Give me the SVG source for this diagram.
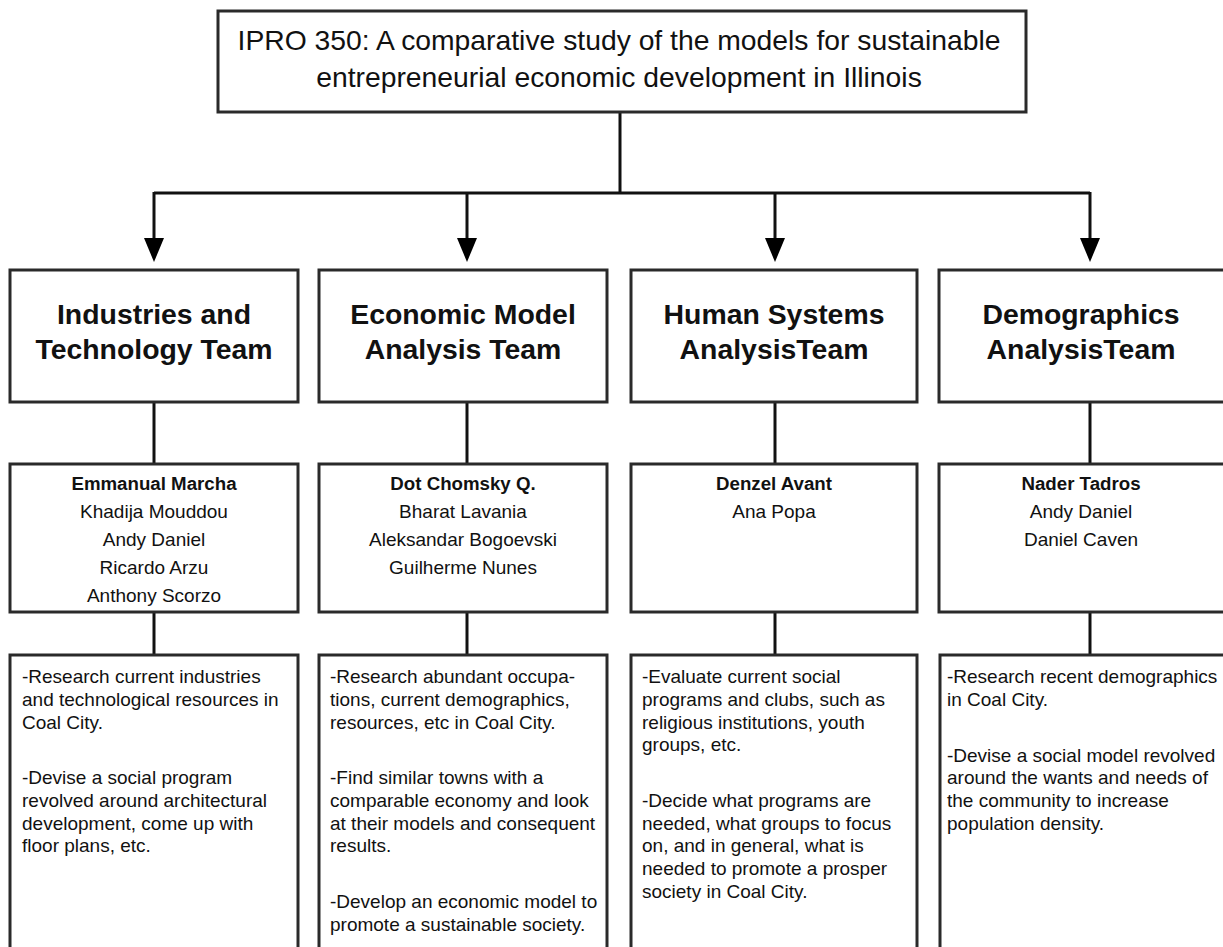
<svg xmlns="http://www.w3.org/2000/svg" width="1223" height="947" viewBox="0 0 1223 947">
<style>
  .box { fill: #ffffff; stroke: #2a2a2a; stroke-width: 3; }
  .conn { fill: none; stroke: #111111; stroke-width: 3; }
  .title { font-family: "Liberation Sans", Arial, sans-serif; font-size: 28.3px; fill: #111111; text-anchor: middle; }
  .team { font-family: "Liberation Sans", Arial, sans-serif; font-size: 28.4px; font-weight: bold; fill: #111111; text-anchor: middle; }
  .lead { font-family: "Liberation Sans", Arial, sans-serif; font-size: 18.7px; font-weight: bold; fill: #111111; text-anchor: middle; }
  .name { font-family: "Liberation Sans", Arial, sans-serif; font-size: 19px; fill: #111111; text-anchor: middle; }
  .desc { font-family: "Liberation Sans", Arial, sans-serif; font-size: 19px; fill: #111111; }
</style>
<defs>
  <marker id="arrow" markerUnits="userSpaceOnUse" markerWidth="24" markerHeight="20" viewBox="0 0 24 20" refX="0" refY="10" orient="auto">
    <path d="M0,0 L24,10 L0,20 z" fill="#000000"/>
  </marker>
</defs>
<rect width="1223" height="947" fill="#ffffff"/>

<g id="connectors">
  <path class="conn" d="M620,112 V193"/>
  <path class="conn" d="M154,193 H1090"/>
  <path class="conn" d="M154,192 V238" marker-end="url(#arrow)"/>
  <path class="conn" d="M467,193 V238" marker-end="url(#arrow)"/>
  <path class="conn" d="M775,193 V238" marker-end="url(#arrow)"/>
  <path class="conn" d="M1090,192 V238" marker-end="url(#arrow)"/>
  <path class="conn" d="M154,402 V464"/>
  <path class="conn" d="M467,402 V464"/>
  <path class="conn" d="M775,402 V464"/>
  <path class="conn" d="M1090,402 V464"/>
  <path class="conn" d="M154,612 V655"/>
  <path class="conn" d="M467,612 V655"/>
  <path class="conn" d="M775,612 V655"/>
  <path class="conn" d="M1090,612 V655"/>
</g>

<g id="root">
  <rect class="box" x="218" y="11" width="808" height="101"/>
  <text class="title" x="619" y="50">IPRO 350: A comparative study of the models for sustainable</text>
  <text class="title" x="619" y="87">entrepreneurial economic development in Illinois</text>
</g>

<g id="team-industries">
  <rect class="box" x="10" y="270" width="288" height="132"/>
  <text class="team" x="154" y="324">Industries and</text>
  <text class="team" x="154" y="359">Technology Team</text>
</g>
<g id="team-economic">
  <rect class="box" x="319" y="270" width="288" height="132"/>
  <text class="team" x="463" y="324">Economic Model</text>
  <text class="team" x="463" y="359">Analysis Team</text>
</g>
<g id="team-human">
  <rect class="box" x="631" y="270" width="286" height="132"/>
  <text class="team" x="774" y="324">Human Systems</text>
  <text class="team" x="774" y="359">AnalysisTeam</text>
</g>
<g id="team-demographics">
  <rect class="box" x="939" y="270" width="300" height="132"/>
  <text class="team" x="1081" y="324">Demographics</text>
  <text class="team" x="1081" y="359">AnalysisTeam</text>
</g>

<g id="members-industries">
  <rect class="box" x="10" y="464" width="288" height="148"/>
  <text class="lead" x="154" y="490">Emmanual Marcha</text>
  <text class="name" x="154" y="518">Khadija Mouddou</text>
  <text class="name" x="154" y="546">Andy Daniel</text>
  <text class="name" x="154" y="574">Ricardo Arzu</text>
  <text class="name" x="154" y="602">Anthony Scorzo</text>
</g>
<g id="members-economic">
  <rect class="box" x="319" y="464" width="288" height="148"/>
  <text class="lead" x="463" y="490">Dot Chomsky Q.</text>
  <text class="name" x="463" y="518">Bharat Lavania</text>
  <text class="name" x="463" y="546">Aleksandar Bogoevski</text>
  <text class="name" x="463" y="574">Guilherme Nunes</text>
</g>
<g id="members-human">
  <rect class="box" x="631" y="464" width="286" height="148"/>
  <text class="lead" x="774" y="490">Denzel Avant</text>
  <text class="name" x="774" y="518">Ana Popa</text>
</g>
<g id="members-demographics">
  <rect class="box" x="939" y="464" width="300" height="148"/>
  <text class="lead" x="1081" y="490">Nader Tadros</text>
  <text class="name" x="1081" y="518">Andy Daniel</text>
  <text class="name" x="1081" y="546">Daniel Caven</text>
</g>

<g id="tasks-industries">
  <rect class="box" x="10" y="655" width="288" height="320"/>
  <text class="desc" x="22" y="683">-Research current industries</text>
  <text class="desc" x="22" y="706">and technological resources in</text>
  <text class="desc" x="22" y="729">Coal City.</text>
  <text class="desc" x="22" y="784">-Devise a social program</text>
  <text class="desc" x="22" y="807">revolved around architectural</text>
  <text class="desc" x="22" y="830">development, come up with</text>
  <text class="desc" x="22" y="852">floor plans, etc.</text>
</g>
<g id="tasks-economic">
  <rect class="box" x="319" y="655" width="288" height="320"/>
  <text class="desc" x="330" y="683">-Research abundant occupa-</text>
  <text class="desc" x="330" y="706">tions, current demographics,</text>
  <text class="desc" x="330" y="729">resources, etc in Coal City.</text>
  <text class="desc" x="330" y="784">-Find similar towns with a</text>
  <text class="desc" x="330" y="807">comparable economy and look</text>
  <text class="desc" x="330" y="830">at their models and consequent</text>
  <text class="desc" x="330" y="852">results.</text>
  <text class="desc" x="330" y="908">-Develop an economic model to</text>
  <text class="desc" x="330" y="931">promote a sustainable society.</text>
</g>
<g id="tasks-human">
  <rect class="box" x="631" y="655" width="286" height="320"/>
  <text class="desc" x="642" y="683">-Evaluate current social</text>
  <text class="desc" x="642" y="706">programs and clubs, such as</text>
  <text class="desc" x="642" y="729">religious institutions, youth</text>
  <text class="desc" x="642" y="751">groups, etc.</text>
  <text class="desc" x="642" y="807">-Decide what programs are</text>
  <text class="desc" x="642" y="830">needed, what groups to focus</text>
  <text class="desc" x="642" y="852">on, and in general, what is</text>
  <text class="desc" x="642" y="875">needed to promote a prosper</text>
  <text class="desc" x="642" y="898">society in Coal City.</text>
</g>
<g id="tasks-demographics">
  <rect class="box" x="940" y="655" width="300" height="320"/>
  <text class="desc" x="947" y="683">-Research recent demographics</text>
  <text class="desc" x="947" y="706">in Coal City.</text>
  <text class="desc" x="947" y="762">-Devise a social model revolved</text>
  <text class="desc" x="947" y="784">around the wants and needs of</text>
  <text class="desc" x="947" y="807">the community to increase</text>
  <text class="desc" x="947" y="830">population density.</text>
</g>
</svg>
